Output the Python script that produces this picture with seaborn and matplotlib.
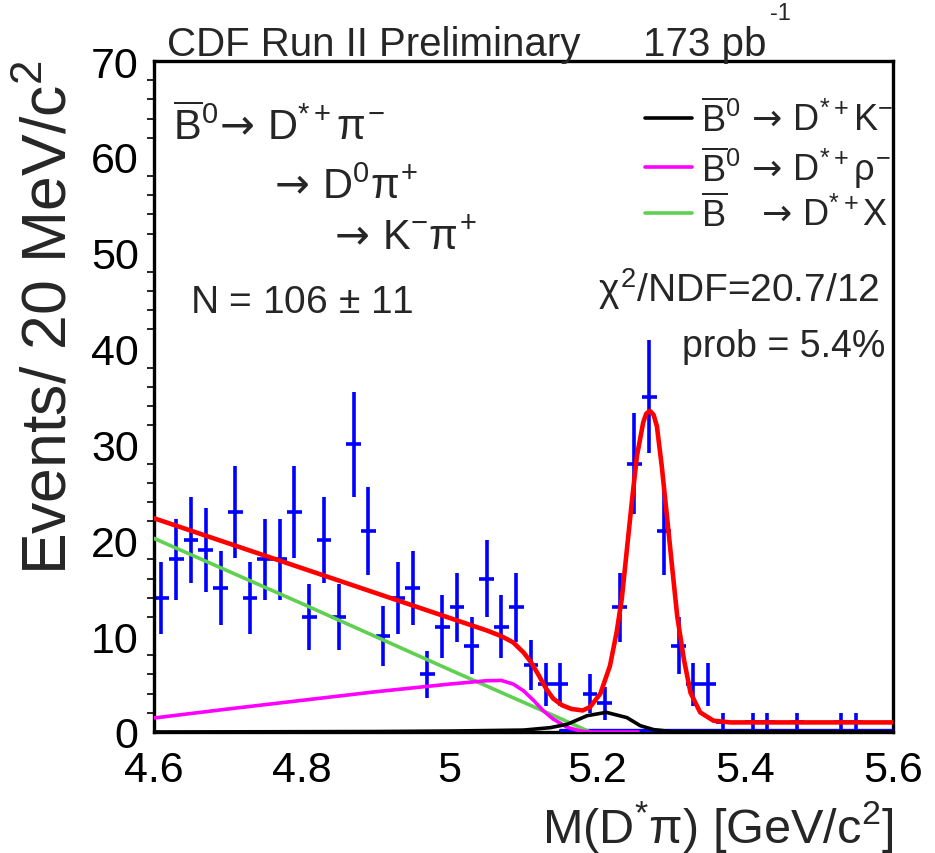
import numpy as np
import pandas as pd
import matplotlib
matplotlib.use("Agg")
import matplotlib.pyplot as plt
import seaborn as sns

# ---------------- data ----------------
bin_centers = [4.61, 4.63, 4.65, 4.67, 4.69, 4.71, 4.73, 4.75, 4.77, 4.79,
               4.81, 4.83, 4.85, 4.87, 4.89, 4.91, 4.93, 4.95, 4.97, 4.99,
               5.01, 5.03, 5.05, 5.07, 5.09, 5.11, 5.13, 5.15, 5.17, 5.19,
               5.21, 5.23, 5.25, 5.27, 5.29, 5.31, 5.33, 5.35, 5.37, 5.39,
               5.41, 5.43, 5.45, 5.47, 5.49, 5.51, 5.53, 5.55, 5.57, 5.59]
counts = [14, 18, 20, 19, 15, 23, 14, 18, 18, 23,
          12, 20, 12, 30, 21, 10, 14, 15, 6, 11,
          13, 9, 16, 11, 13, 7, 5, 5, 0, 4,
          3, 13, 28, 35, 21, 9, 5, 5, 1, 0,
          1, 1, 0, 1, 0, 0, 1, 1, 0, 0]
bin_half_width = 0.01

# total fit (red)
total_x = [4.60, 4.70, 4.80, 4.90, 5.00, 5.05, 5.07, 5.086, 5.10, 5.11, 5.12,
           5.13, 5.14, 5.152, 5.165, 5.18, 5.19, 5.204, 5.217, 5.226, 5.233,
           5.240, 5.247, 5.2535, 5.262, 5.266, 5.271, 5.276, 5.2805, 5.287,
           5.294, 5.301, 5.308, 5.317, 5.326, 5.339, 5.357, 5.38, 5.60]
total_y = [22.3, 19.7, 17.1, 14.5, 11.9, 10.6, 10.0, 9.35, 8.3, 7.3, 6.0,
           4.6, 3.5, 2.8, 2.4, 2.25, 2.6, 4.0, 6.9, 10.4, 13.9,
           19.1, 24.3, 28.8, 32.3, 33.2, 33.5, 33.1, 31.9, 27.8,
           22.6, 17.3, 12.1, 7.6, 4.1, 2.05, 1.18, 1.0, 1.0]

# B0bar -> D*+ K- (black)
dk_x = [4.60, 4.90, 5.00, 5.10, 5.136, 5.159, 5.186, 5.212, 5.24, 5.258, 5.276, 5.30, 5.60]
dk_y = [0.0, 0.05, 0.1, 0.2, 0.45, 0.8, 1.7, 2.05, 1.5, 0.66, 0.25, 0.05, 0.0]

# B0bar -> D*+ rho- (magenta)
drho_x = [4.60, 4.70, 4.80, 4.90, 5.00, 5.05, 5.07, 5.086, 5.10, 5.114, 5.127,
          5.14, 5.159, 5.177, 5.19, 5.255]
drho_y = [1.46, 2.4, 3.3, 4.2, 5.0, 5.35, 5.38, 5.0, 4.3, 3.27, 2.2,
          1.36, 0.49, 0.1, 0.0, 0.0]

# Bbar -> D*+ X (green)
dx_x = [4.60, 4.80, 5.00, 5.10, 5.15, 5.19]
dx_y = [20.2, 13.4, 6.5, 3.1, 1.4, 0.0]

# small blue component near zero
comb_x = [5.15, 5.60]
comb_y = [0.2, 0.2]

# ---------------- style ----------------
sns.set_theme(style="white")
plt.rcParams["font.family"] = ["Liberation Sans", "DejaVu Sans"]
plt.rcParams["mathtext.fontset"] = "custom"
plt.rcParams["mathtext.rm"] = "Liberation Sans"
plt.rcParams["mathtext.it"] = "Liberation Sans"
plt.rcParams["mathtext.sf"] = "DejaVu Sans"
plt.rcParams["mathtext.bf"] = "Liberation Sans:bold"

ARROW = r"\mathsf{\rightarrow}"

W, H = 935, 854
fig = plt.figure(figsize=(W / 100, H / 100), dpi=100)
fig.patch.set_facecolor("white")
ax = fig.add_axes([154 / W, 1 - 733 / H, (893 - 154) / W, (733 - 62) / H])
ax.set_facecolor("white")

def fx(px):
    return px / W

def fy(py):
    return 1 - py / H

# data points
data = pd.DataFrame({"x": bin_centers, "n": counts})
data["err"] = np.sqrt(data["n"])
ax.errorbar(data["x"], data["n"], yerr=data["err"], xerr=bin_half_width,
            fmt="none", ecolor="#0000ff", elinewidth=2.6, capsize=0, zorder=2)

# curves
sns.lineplot(x=comb_x, y=comb_y, ax=ax, color="#0000ff", lw=2.4,
             sort=False, estimator=None, legend=False, zorder=3)
sns.lineplot(x=dx_x, y=dx_y, ax=ax, color="#5fd050", lw=2.6,
             sort=False, estimator=None, zorder=4,
             label=r"$\overline{\mathrm{B}}\ \ \ " + ARROW + r"\,\mathrm{D}^{*+}\mathrm{X}$")
sns.lineplot(x=drho_x, y=drho_y, ax=ax, color="#ff00ff", lw=2.6,
             sort=False, estimator=None, zorder=5,
             label=r"$\overline{\mathrm{B}}^{0}\," + ARROW + r"\,\mathrm{D}^{*+}\rho^{-}$")
sns.lineplot(x=dk_x, y=dk_y, ax=ax, color="black", lw=2.6,
             sort=False, estimator=None, zorder=6,
             label=r"$\overline{\mathrm{B}}^{0}\," + ARROW + r"\,\mathrm{D}^{*+}\mathrm{K}^{-}$")
sns.lineplot(x=total_x, y=total_y, ax=ax, color="#ff0000", lw=3.3,
             sort=False, estimator=None, legend=False, zorder=7)

# axes
ax.set_xlim(4.6, 5.6)
ax.set_ylim(0, 70)
ax.set_xticks([4.6, 4.8, 5.0, 5.2, 5.4, 5.6])
ax.set_xticklabels(["4.6", "4.8", "5", "5.2", "5.4", "5.6"])
ax.set_yticks(range(0, 71, 10))
ax.set_yticks(range(0, 71, 2), minor=True)
ax.tick_params(axis="both", which="major", direction="out", length=10, width=1.6,
               labelsize=31, colors="black")
ax.tick_params(axis="x", which="major", pad=3)
ax.tick_params(axis="y", which="major", pad=1)
ax.tick_params(axis="y", which="minor", direction="out", length=5, width=1.4, left=True)
ax.tick_params(axis="x", which="minor", bottom=False)
for s in ax.spines.values():
    s.set_linewidth(2.4)
    s.set_color("black")
ax.set_xlabel("")
ax.set_ylabel("")

# legend
handles, labels = ax.get_legend_handles_labels()
order = [2, 1, 0]
leg = ax.legend([handles[i] for i in order], [labels[i] for i in order],
                loc="upper left", bbox_to_anchor=(fx(645), fy(100)),
                bbox_transform=fig.transFigure, frameon=False, fontsize=26,
                handlelength=1.3, handletextpad=0.25, labelspacing=0.12,
                borderpad=0, borderaxespad=0)

# axis titles
fig.text(fx(50), fy(60), r"Events/ 20 MeV/c$^{2}$", rotation=90,
         ha="center", va="top", fontsize=45)
fig.text(fx(893), fy(843), r"M(D$^{*}\pi$) [GeV/c$^{2}$]",
         ha="right", va="baseline", fontsize=35)

# header
fig.text(fx(167), fy(56), "CDF Run II Preliminary", fontsize=29, va="baseline")
fig.text(fx(643), fy(56), "173 pb", fontsize=29, va="baseline")
fig.text(fx(770), fy(20), "-1", fontsize=17, va="baseline")

# annotations inside the frame
fig.text(fx(173), fy(140), r"$\overline{\mathrm{B}}^{0}\!" + ARROW + r"\,\mathrm{D}^{*+}\pi^{-}$",
         fontsize=30, va="baseline")
fig.text(fx(268), fy(199), r"$" + ARROW + r"\,\mathrm{D}^{0}\pi^{+}$", fontsize=30, va="baseline")
fig.text(fx(328), fy(250), r"$" + ARROW + r"\,\mathrm{K}^{-}\pi^{+}$", fontsize=30, va="baseline")
fig.text(fx(190), fy(313), r"N = 106 $\pm$ 11", fontsize=28, va="baseline")
fig.text(fx(880), fy(302), r"$\chi^{2}$/NDF=20.7/12", fontsize=28, va="baseline", ha="right")
fig.text(fx(885), fy(357), "prob = 5.4%", fontsize=27, va="baseline", ha="right")

fig.savefig("out.png", dpi=100, facecolor="white")
